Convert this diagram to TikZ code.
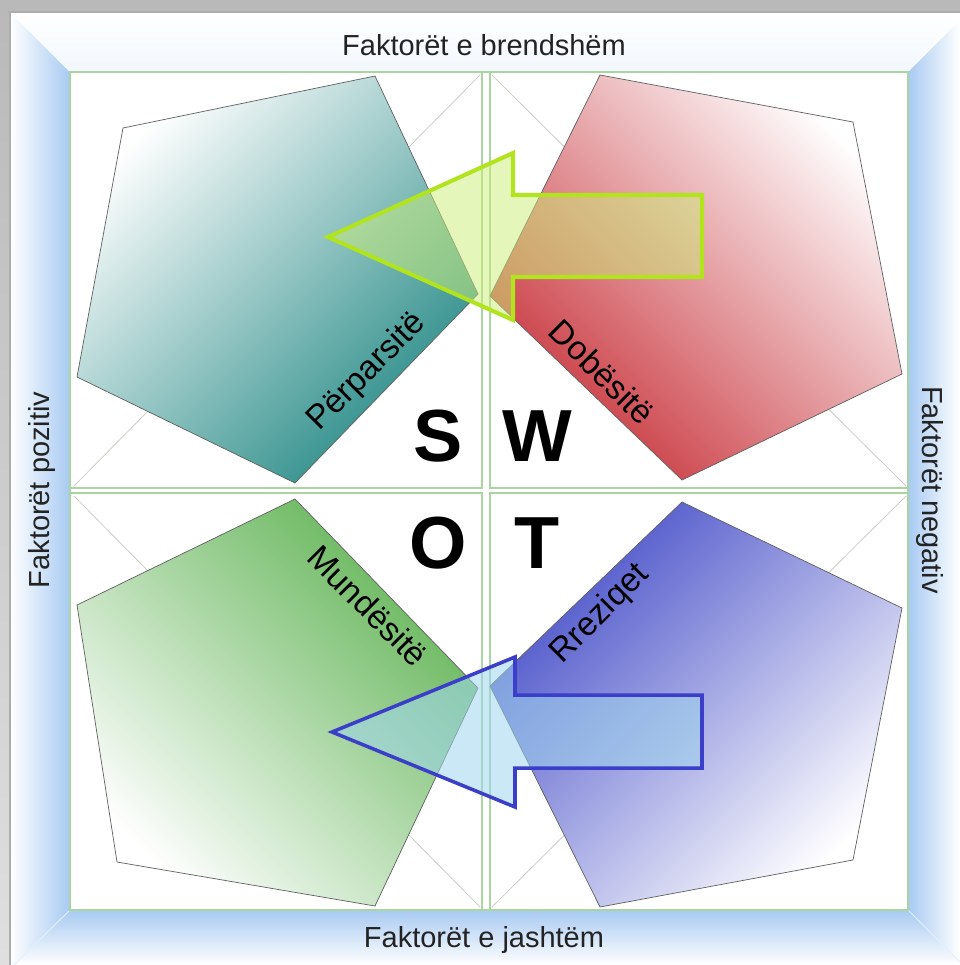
\documentclass[tikz,border=0pt]{standalone}
\usepackage{fontspec}
\setmainfont{Liberation Sans}
\definecolor{glowblue}{RGB}{168,202,242}
\definecolor{quadgreen}{RGB}{170,212,160}
\definecolor{diaggray}{RGB}{200,208,196}
\definecolor{factorgray}{RGB}{35,35,35}
\definecolor{tealS}{RGB}{38,138,134}
\definecolor{redW}{RGB}{200,52,60}
\definecolor{greenO}{RGB}{98,180,86}
\definecolor{blueT}{RGB}{72,80,200}
\definecolor{limeedge}{RGB}{178,228,30}
\definecolor{limefill}{RGB}{205,238,120}
\definecolor{blueedge}{RGB}{58,62,200}
\definecolor{bluefill}{RGB}{160,214,238}
\begin{document}
\begin{tikzpicture}[x=0.02cm,y=-0.02cm,
  quad/.style={draw=quadgreen,line width=0.8pt,fill=white},
  diag/.style={draw=diaggray,line width=0.45pt},
  penta/.style={draw=gray!75!black,line width=0.4pt},
  factor/.style={text=factorgray,font=\fontsize{16.5}{19}\selectfont},
  letter/.style={font=\fontsize{42}{46}\selectfont\bfseries},
  plabel/.style={font=\fontsize{19}{22}\selectfont}]
\useasboundingbox (0,0) rectangle (960,965);
\shade[top color=gray!55,bottom color=gray!25] (0,0) rectangle (960,965);
\fill[white] (10,12) rectangle (960,965);
\shade[left color=white,right color=glowblue] (10,12) -- (70,72) -- (70,910) -- (10,965) -- cycle;
\shade[left color=glowblue,right color=white] (908,72) -- (960,20) -- (960,965) -- (908,910) -- cycle;
\shade[top color=glowblue,bottom color=white] (70,910) -- (908,910) -- (960,965) -- (10,965) -- cycle;
\shade[top color=white,bottom color=glowblue!15] (10,12) -- (960,12) -- (908,72) -- (70,72) -- cycle;
\draw[white!70!glowblue,line width=0.5pt] (70,910) -- (14,965) (908,910) -- (960,962);
\draw[gray!65,line width=0.6pt] (10,965) -- (10,12) -- (960,12);

\draw[quad] (70,72) rectangle (908,910);
\draw[quad] (70,72) rectangle (482,488);
\draw[quad] (490,72) rectangle (908,488);
\draw[quad] (70,493) rectangle (482,910);
\draw[quad] (490,493) rectangle (908,910);
\draw[diag] (74,486) -- (480,75);
\draw[diag] (492,75) -- (906,486);
\draw[diag] (74,496) -- (480,907);
\draw[diag] (492,907) -- (906,496);

\shade[penta,top color=white,bottom color=tealS,shading angle=45]
  (123,128) -- (375,76) -- (478,294) -- (295,483) -- (77,377) -- cycle;
\shade[penta,top color=white,bottom color=redW,shading angle=-45]
  (853,122) -- (600,75) -- (490,296) -- (682,480) -- (902,374) -- cycle;
\shade[penta,top color=white,bottom color=greenO,shading angle=135]
  (117,862) -- (375,906) -- (478,688) -- (295,499) -- (77,605) -- cycle;
\shade[penta,top color=white,bottom color=blueT,shading angle=-135]
  (853,860) -- (600,907) -- (490,686) -- (682,502) -- (902,608) -- cycle;

\node[plabel,rotate=45] at (367,372) (strengths) {Përparsitë};
\node[plabel,rotate=-45] at (602,372) (weaknesses) {Dobësitë};
\node[plabel,rotate=-45] at (368,606) (opportunities) {Mundësitë};
\node[plabel,rotate=45] at (600,614) (threats) {Rreziqet};

\node[letter] at (438,436) (s) {S};
\node[letter] at (537,436) (w) {W};
\node[letter] at (438,543) (o) {O};
\node[letter] at (537,543) (t) {T};

\draw[limeedge,line width=2.3pt,line join=miter,fill=limefill,fill opacity=0.5]
  (328,237) -- (513,153) -- (513,195) -- (702,195) -- (702,277) -- (513,277) -- (513,320) -- cycle;
\draw[blueedge,line width=2pt,line join=miter,fill=bluefill,fill opacity=0.55]
  (332,732) -- (515,657) -- (515,695) -- (702,695) -- (702,768) -- (515,768) -- (515,807) -- cycle;

\node[factor] at (484,45) (internal) {Faktorët e brendshëm};
\node[factor] at (484,940) (external) {Faktorët e jashtëm};
\node[factor,rotate=90] at (42,490) (positive) {Faktorët pozitiv};
\node[factor,rotate=-90] at (930,490) (negative) {Faktorët negativ};
\end{tikzpicture}
\end{document}
